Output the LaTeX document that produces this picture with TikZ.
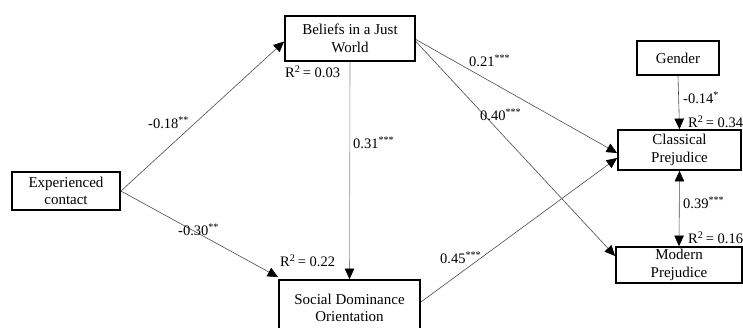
\documentclass[tikz,border=0pt]{standalone}
\usepackage{fontspec}
\setmainfont{Liberation Serif}
\usetikzlibrary{arrows.meta}
\begin{document}
\begin{tikzpicture}[x=1pt,y=-1pt,
  box/.style={draw=black,line width=1.8pt,align=center,inner sep=0pt,font=\fontsize{15}{17.5}\selectfont},
  conn/.style={draw=black!70,line width=0.6pt,-{Triangle[length=10.5pt,width=9.5pt,color=black]}},
  lab/.style={anchor=west,inner sep=0pt,font=\fontsize{14.5}{17}\selectfont}]
\useasboundingbox[fill=white] (0,0) rectangle (743,327);
\node[box,minimum width=130pt,minimum height=45pt] (bel) at (350,38.5) {Beliefs in a Just\\World};
\node[box,minimum width=82pt,minimum height=34pt] (gen) at (678,58) {Gender};
\node[box,minimum width=123pt,minimum height=40pt] (cla) at (679.5,150) {Classical\\Prejudice};
\node[box,minimum width=126pt,minimum height=36pt] (mod) at (679,265) {Modern\\Prejudice};
\node[box,minimum width=108pt,minimum height=38pt] (exp) at (66,191) {Experienced\\contact};
\node[box,minimum width=141pt,minimum height=56pt] (sdo) at (349.5,308) {Social Dominance\\Orientation};
% connectors
\draw[conn] (exp.east) -- ([yshift=-3pt]bel.west);
\draw[conn] (exp.east) -- ([yshift=2pt]sdo.north west);
\draw[conn,draw=black!45] (bel.south) -- (sdo.north);
\draw[conn] ([yshift=-1pt]bel.east) -- ([yshift=-3pt]cla.west);
\draw[conn] ([yshift=-3pt]bel.east) -- ([yshift=9pt]mod.west);
\draw[conn] ([yshift=6pt]sdo.east) -- ([yshift=-8pt]cla.west);
\draw[conn] (gen.south) -- (cla.north);
\draw[conn,{Triangle[length=10.5pt,width=9.5pt,color=black]}-{Triangle[length=10.5pt,width=9.5pt,color=black]}] (cla.south) -- (mod.north);
% labels
\node[lab] (l1) at (148,123) {-0.18\textsuperscript{**}};
\node[lab] (l2) at (178,230) {-0.30\textsuperscript{**}};
\node[lab] (l3) at (353,143) {0.31\textsuperscript{***}};
\node[lab] (l4) at (469,61) {0.21\textsuperscript{***}};
\node[lab] (l5) at (480,115) {0.40\textsuperscript{***}};
\node[lab] (l6) at (440,258) {0.45\textsuperscript{***}};
\node[lab] (l7) at (683,98) {-0.14\textsuperscript{*}};
\node[lab] (l8) at (688,121.5) {R\textsuperscript{2}\,= 0.34};
\node[lab] (l9) at (683,203) {0.39\textsuperscript{***}};
\node[lab] (l10) at (688,238) {R\textsuperscript{2}\,= 0.16};
\node[lab] (l11) at (280,261) {R\textsuperscript{2}\,= 0.22};
\node[lab] (l12) at (285,72) {R\textsuperscript{2}\,= 0.03};
\end{tikzpicture}
\end{document}
